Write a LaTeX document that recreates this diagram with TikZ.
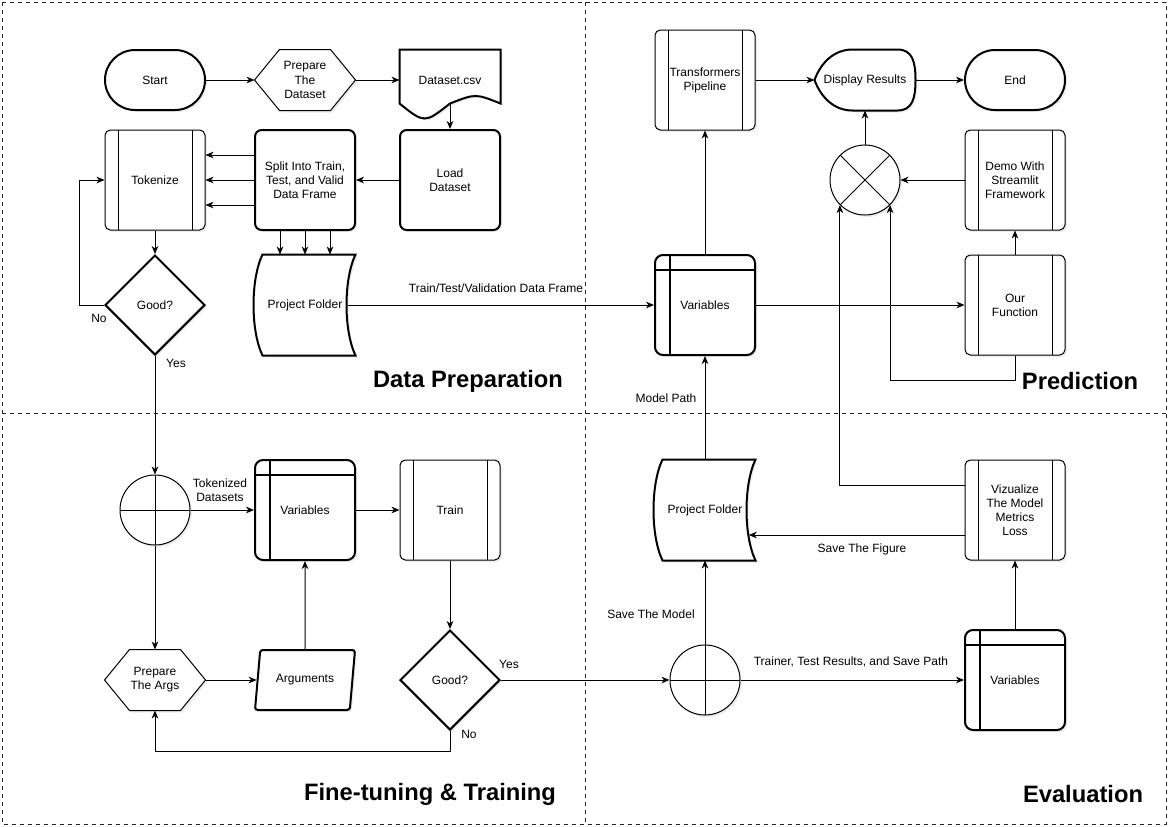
\documentclass[tikz,border=0pt]{standalone}
\usepackage{fontspec}
\setmainfont{Liberation Sans}
\usepackage{tikz}
\usetikzlibrary{positioning}
\usetikzlibrary{shapes,arrows.meta,shadows}
\tikzset{
  shadowed/.style={drop shadow={opacity=0.15, shadow xshift=1.5pt, shadow yshift=-1.5pt}},
  bold/.style={line width=1.5pt},
  base/.style={rectangle, minimum width=75pt, minimum height=75pt, align=center, inner sep=2pt,
    font=\fontsize{9}{10.6}\selectfont},
  terminal/.style={base, draw, bold, fill=white, shadowed, rounded corners=22.5pt, minimum height=45pt},
  block/.style={base, draw, bold, fill=white, shadowed, rounded corners=5pt},
  procbox/.style={base, draw, fill=white, shadowed, rounded corners=4pt, path picture={
    \draw ([xshift=9.75pt]path picture bounding box.north west) -- ([xshift=9.75pt]path picture bounding box.south west);
    \draw ([xshift=-9.75pt]path picture bounding box.north east) -- ([xshift=-9.75pt]path picture bounding box.south east);}},
  storebox/.style={base, draw, bold, fill=white, shadowed, rounded corners=6pt, path picture={
    \draw[bold] ([xshift=11.25pt]path picture bounding box.north west) -- ([xshift=11.25pt]path picture bounding box.south west);
    \draw[bold] ([yshift=-11.25pt]path picture bounding box.north west) -- ([yshift=-11.25pt]path picture bounding box.north east);}},
  decision/.style={base, diamond, draw, bold, fill=white, shadowed, inner sep=0pt},
  argbox/.style={base, trapezium, trapezium left angle=72, trapezium right angle=108, trapezium stretches body,
    draw, bold, fill=white, shadowed, rounded corners=2pt, minimum height=45pt},
  orjoin/.style={circle, draw, fill=white, shadowed, minimum size=52.5pt, inner sep=0pt, path picture={
    \draw (path picture bounding box.north) -- (path picture bounding box.south);
    \draw (path picture bounding box.west) -- (path picture bounding box.east);}},
  sumjoin/.style={circle, draw, fill=white, shadowed, minimum size=52.5pt, inner sep=0pt, path picture={
    \draw (path picture bounding box.north west) -- (path picture bounding box.south east);
    \draw (path picture bounding box.south west) -- (path picture bounding box.north east);}},
  hexbox/.style={base, minimum height=45pt, append after command={\pgfextra{\let\hexnode\tikzlastnode
    \draw[shadowed, fill=white] (\hexnode.west) -- ([xshift=18.75pt]\hexnode.north west)
      -- ([xshift=-18.75pt]\hexnode.north east) -- (\hexnode.east)
      -- ([xshift=-18.75pt]\hexnode.south east) -- ([xshift=18.75pt]\hexnode.south west) -- cycle;}}},
  docbox/.style={base, minimum height=45pt, append after command={\pgfextra{\let\docnode\tikzlastnode
    \draw[bold, shadowed, fill=white] (\docnode.north west) -- (\docnode.north east)
      -- ([yshift=5.25pt]\docnode.south east)
      .. controls ([xshift=-18.75pt,yshift=12.75pt]\docnode.south east) .. ([yshift=5.25pt]\docnode.south)
      .. controls ([xshift=18.75pt,yshift=-9.75pt]\docnode.south west) .. ([yshift=5.25pt]\docnode.south west) -- cycle;}}},
  showbox/.style={base, minimum height=45pt, append after command={\pgfextra{\let\shownode\tikzlastnode
    \draw[bold, shadowed, fill=white] (\shownode.west)
      .. controls ([xshift=5pt,yshift=13.5pt]\shownode.west) and ([xshift=15pt]\shownode.north west) .. ([xshift=28.5pt]\shownode.north west)
      -- ([xshift=-13.5pt]\shownode.north east)
      .. controls ([xshift=-2.25pt]\shownode.north east) and ([yshift=13.5pt]\shownode.east) .. (\shownode.east)
      .. controls ([yshift=-13.5pt]\shownode.east) and ([xshift=-2.25pt]\shownode.south east) .. ([xshift=-13.5pt]\shownode.south east)
      -- ([xshift=28.5pt]\shownode.south west)
      .. controls ([xshift=15pt]\shownode.south west) and ([xshift=5pt,yshift=-13.5pt]\shownode.west) .. (\shownode.west) -- cycle;}}},
  folderbox/.style={base, append after command={\pgfextra{\let\foldnode\tikzlastnode
    \draw[bold, shadowed, fill=white] ([xshift=6pt]\foldnode.north west) -- (\foldnode.north east)
      .. controls ([xshift=-9pt,yshift=-18.75pt]\foldnode.north east) and ([xshift=-9pt,yshift=18.75pt]\foldnode.south east) .. (\foldnode.south east)
      -- ([xshift=6pt]\foldnode.south west)
      .. controls ([xshift=-3pt,yshift=18.75pt]\foldnode.south west) and ([xshift=-3pt,yshift=-18.75pt]\foldnode.north west) .. cycle;}}},
  lbl/.style={inner sep=0pt, align=center, font=\fontsize{9}{10.6}\selectfont},
  title/.style={inner sep=0pt, font=\fontsize{17.8}{20}\selectfont\bfseries},
  frame/.style={dash pattern=on 3pt off 3pt, line width=0.75pt, black!85},
  arrow/.style={draw, -{Stealth[length=6pt, width=5pt, inset=1.8pt]}}
}

\begin{document}
\begin{tikzpicture}[x=0.75pt, y=0.75pt, line width=0.75pt]
\useasboundingbox (0,0) rectangle (1168,-826);

%% quadrants
\draw[frame] (2,-2) rectangle (1166,-824);
\draw[frame] (585,-2) -- (585,-824);
\draw[frame] (2,-413) -- (1166,-413);

%% data preparation
\node[terminal] at (155,-80) (start) {Start};
\node[hexbox] at (305,-80) (prepdata) {Prepare\\The\\Dataset};
\node[docbox] at (450,-80) (csv) {Dataset.csv};
\node[procbox] at (155,-180) (tok) {Tokenize};
\node[block] at (305,-180) (split) {Split Into Train,\\Test, and Valid\\Data Frame};
\node[block] at (450,-180) (load) {Load\\Dataset};
\node[decision] at (155,-305) (good1) {Good?};
\node[folderbox] at (305,-305) (pf1) {Project Folder};
\node[title] at (468,-381) (titleprep) {Data Preparation};

\path[arrow] (start) -- (prepdata);
\path[arrow] (prepdata) -- (csv);
\path[arrow] ([yshift=5pt]csv.south) -- (load);
\path[arrow] (load) -- (split);
\foreach \s in {-18.75,0,18.75}{
  \path[arrow] ([yshift=\s pt]split.west) -- ([yshift=\s pt]tok.east);
  \path[arrow] ([xshift=\s pt]split.south) -- ([xshift=\s pt]pf1.north);
}
\path[arrow] (tok) -- (good1);
\path[arrow] (good1.west) -- ++(-25,0) |- (tok.west);
\node[lbl] at (99,-318) (no1) {No};

%% prediction
\node[procbox] at (705,-80) (trans) {Transformers\\Pipeline};
\node[showbox] at (865,-80) (disp) {Display Results};
\node[terminal] at (1015,-80) (finish) {End};
\node[sumjoin] at (865,-180) (xc) {};
\node[procbox] at (1015,-180) (demo) {Demo With\\Streamlit\\Framework};
\node[storebox] at (705,-305) (vars1) {Variables};
\node[procbox] at (1015,-305) (fn) {Our\\Function};
\node[title] at (1080,-381) (titlepred) {Prediction};

\path[arrow] ([xshift=-6pt]pf1.east) -- (vars1.west);
\node[lbl] at (496,-288) (dflbl) {Train/Test/Validation Data Frame};
\path[arrow] (vars1) -- (trans);
\path[arrow] (trans) -- (disp);
\path[arrow] (disp) -- (finish);
\path[arrow] (xc) -- (disp.south);
\path[arrow] (demo) -- (xc);
\path[arrow] (fn) -- (demo);
\path[arrow] (vars1) -- (fn);
\path[arrow] (fn.south) -- ++(0,-25) -| (xc.-45);

%% fine-tuning and training
\node[orjoin] at (155,-510) (or1) {};
\node[storebox] at (305,-510) (vars3) {Variables};
\node[procbox] at (450,-510) (train) {Train};
\node[hexbox] at (155,-680) (prepargs) {Prepare\\The Args};
\node[argbox] at (305,-680) (args) {Arguments};
\node[decision] at (450,-680) (good2) {Good?};
\node[title] at (430,-794) (titletrain) {Fine-tuning \& Training};

\path[arrow] (good1.south) -- (or1.north);
\node[lbl] at (176,-363) (yes1) {Yes};
\path[arrow] (or1) -- (vars3);
\node[lbl] at (220,-490) (toklbl) {Tokenized\\Datasets};
\path[arrow] (vars3) -- (train);
\path[arrow] (train) -- (good2);
\path[arrow] (or1) -- (prepargs);
\path[arrow] (prepargs) -- (args);
\path[arrow] (args.north) -- (vars3.south);
\path[arrow] (good2.south) -- ++(0,-20) -| (prepargs.south);
\node[lbl] at (469,-734) (no2) {No};

%% evaluation
\node[folderbox] at (705,-510) (pf2) {Project Folder};
\node[procbox] at (1015,-510) (viz) {Vizualize\\The Model\\Metrics\\Loss};
\node[orjoin] at (705,-680) (or2) {};
\node[storebox] at (1015,-680) (vars2) {Variables};
\node[title] at (1083,-794) (titleeval) {Evaluation};

\path[arrow] (good2.east) -- (or2.west);
\node[lbl] at (509,-664) (yes2) {Yes};
\path[arrow] (or2) -- (vars2);
\node[lbl] at (851,-662) (reslbl) {Trainer, Test Results, and Save Path};
\path[arrow] (or2) -- (pf2);
\node[lbl] at (651,-614) (savemodel) {Save The Model};
\path[arrow] (pf2) -- (vars1);
\node[lbl] at (666,-398) (modelpath) {Model Path};
\path[arrow] (vars2) -- (viz);
\path[arrow] ([yshift=-18.75pt]viz.west) -- ([xshift=-5pt,yshift=-18.75pt]pf2.east);
\node[lbl] at (862,-549) (savefig) {Save The Figure};
\path[arrow] ([yshift=18.75pt]viz.west) -| (xc.-135);

\end{tikzpicture}
\end{document}
